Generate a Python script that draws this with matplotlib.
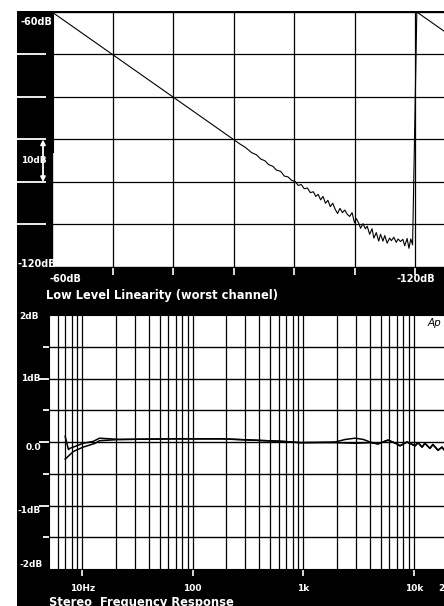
import numpy as np
import matplotlib
matplotlib.use("Agg")
import matplotlib.pyplot as plt
from matplotlib.patches import Rectangle
import matplotlib.transforms as mtrans

# Low level linearity (generator level vs measured level, dB)
lin_level = [-60, -70, -80, -90, -91.0, -92.0, -93.0, -93.8, -94.5, -95.2, -95.8, -96.5,
             -97.1, -97.8, -98.4, -99.0, -99.6, -100.2, -100.7, -101.2, -101.7, -102.2,
             -102.7, -103.2, -103.6, -104.0, -104.4, -104.8, -105.2, -105.6, -106.0,
             -106.4, -106.8, -107.2, -107.6, -108.0, -108.4, -108.8, -109.2, -109.6,
             -110.0, -110.3, -110.7, -111.0, -111.4, -111.8, -112.1, -112.5, -112.9,
             -113.2, -113.6, -114.0, -114.3, -114.7, -115.0, -115.4, -115.8, -116.1,
             -116.5, -116.9, -117.2, -117.6, -118.0, -118.3, -118.7, -119.0, -119.3,
             -119.6, -120.3]
lin_out = [-60, -70, -80, -90, -91.0, -91.9, -93.1, -93.6, -94.6, -95.0, -95.9, -96.3,
           -97.2, -97.5, -98.6, -98.8, -99.6, -99.9, -100.8, -100.6, -101.6, -101.4,
           -102.5, -102.3, -103.4, -102.9, -104.2, -103.4, -105.0, -104.3, -105.8,
           -105.0, -106.4, -107.4, -106.2, -107.2, -106.6, -107.6, -108.1, -107.2,
           -109.6, -108.6, -109.7, -110.9, -109.8, -111.0, -110.4, -112.3, -111.0,
           -113.2, -111.9, -113.9, -112.3, -113.9, -112.6, -114.4, -113.2, -113.8,
           -113.0, -114.2, -113.4, -114.0, -113.5, -115.0, -113.3, -115.6, -113.4,
           -114.8, -60]
# next sweep starting again at the right edge
sweep2_level = [-120.3, -125.0]
sweep2_out = [-60, -64.7]
# tail of the previous sweep at the left edge
sweep0_level = [-60.15, -60.15]
sweep0_out = [-60, -93]

# Stereo frequency response (Hz, dB)
freq_a = [7.0, 7.5, 7.7, 8.3, 10.2, 12.6, 14.3, 22, 66, 184, 643, 934, 1940, 2400, 2940,
          3500, 4020, 4750, 5840, 7050, 7500, 8680, 10300, 10900, 11900, 12600, 14000,
          14900, 16600, 18000, 18700]
resp_a = [0.09, -0.12, -0.10, -0.08, -0.02, 0.01, 0.06, 0.04, 0.05, 0.05, 0.01, -0.01,
          0.0, 0.04, 0.06, 0.04, 0.0, -0.03, 0.03, -0.03, -0.06, 0.0, -0.06, -0.01,
          -0.08, -0.02, -0.10, -0.04, -0.13, -0.08, -0.12]
freq_b = [7.0, 8.3, 10.2, 13.1, 14.3, 22, 66, 184, 643, 934, 1940, 2940, 4020, 4750,
          5840, 7050, 7500, 8680, 10300, 10900, 11900, 12600, 14000, 14900, 16600,
          18000, 18700]
resp_b = [-0.27, -0.15, -0.08, -0.02, 0.02, 0.04, 0.05, 0.05, 0.01, -0.01, -0.01, -0.02,
          -0.01, -0.03, 0.03, -0.03, -0.06, 0.0, -0.06, -0.01, -0.08, -0.02, -0.10,
          -0.04, -0.13, -0.08, -0.12]

lin_grid = [-60, -70, -80, -90, -100, -110, -120, -130]
fr_grid_x = [6, 7, 8, 9, 10, 20, 30, 40, 50, 60, 70, 80, 90, 100, 200, 300, 400, 500,
             600, 700, 800, 900, 1000, 2000, 3000, 4000, 5000, 6000, 7000, 8000, 9000,
             10000, 20000]
fr_grid_y = [-1.5, -1.0, -0.5, 0.0, 0.5, 1.0, 1.5]
fr_ticks = [10, 100, 1000, 10000, 20000]
fr_ticklabels = ["10Hz", "100", "1k", "10k", "20k"]

W, H = 444, 606
cond = ["Liberation Sans Narrow", "DejaVu Sans"]

fig = plt.figure(figsize=(W / 100, H / 100), dpi=100)
# black page behind both panels
bg = fig.add_axes([0, 0, 1, 1], zorder=-5)
bg.axis("off")
bg.add_patch(Rectangle((17 / W, 0), 1, (H - 11) / H, transform=bg.transAxes,
                       facecolor="black", edgecolor="none"))

# ---- top panel: low level linearity ----
ax1 = fig.add_axes([52 / W, (H - 267) / H, 423.5 / W, 255 / H])
ax1.set_xlim(-60, -130)
ax1.set_ylim(-120, -60)
for v in lin_grid:
    ax1.axvline(v, color="black", lw=0.9, zorder=1)
    ax1.axhline(v, color="black", lw=0.9, zorder=1)
ax1.plot(lin_level, lin_out, color="black", lw=0.8, zorder=3)
ax1.plot(sweep2_level, sweep2_out, color="black", lw=0.8, zorder=3)
ax1.plot(sweep0_level, sweep0_out, color="black", lw=0.8, zorder=3)
ax1.set_xticks([-70, -80, -90, -100, -110, -120])
ax1.set_xticklabels([])
ax1.set_yticks([])
ax1.tick_params(axis="x", direction="out", length=6, width=1.2, color="white")
for s in ax1.spines.values():
    s.set_color("black")

# white dashes in the left strip
bl1 = mtrans.blended_transform_factory(ax1.transAxes, ax1.transData)
ax1.hlines([-70, -80, -90, -100, -110], -35 / 423.5, -6 / 423.5, colors="white",
           lw=1.3, transform=bl1, clip_on=False)
ax1.annotate("", xy=(-9 / 423.5, -100), xytext=(-9 / 423.5, -90), xycoords=bl1,
             textcoords=bl1, arrowprops=dict(arrowstyle="<|-|>", color="white", lw=1.3,
                                             mutation_scale=7, shrinkA=0, shrinkB=0))
ax1.text(-31 / 423.5, -95, "10dB", transform=bl1, color="white", fontsize=6.5,
         fontweight="bold", family=cond, va="center", ha="left")
ax1.text(-32 / 423.5, -62.3, "-60dB", transform=bl1, color="white", fontsize=7,
         fontweight="bold", family=cond, va="center", ha="left")
ax1.text(-35 / 423.5, -119.3, "-120dB", transform=bl1, color="white", fontsize=7,
         fontweight="bold", family=cond, va="center", ha="left")
fig.text(49 / W, 1 - 279 / H, "-60dB", color="white", fontsize=7, fontweight="bold",
         family=cond, va="center", ha="left")
fig.text(416 / W, 1 - 279 / H, "-120dB", color="white", fontsize=7, fontweight="bold",
         family=cond, va="center", ha="center")
fig.text(46 / W, 1 - 296 / H, "Low Level Linearity (worst channel)", color="white",
         fontsize=8.3, fontweight="bold", va="center", ha="left")

# ---- bottom panel: stereo frequency response ----
fr_w = 110.5 * np.log10(30000 / 5)
ax2 = fig.add_axes([49 / W, (H - 569) / H, fr_w / W, 254 / H])
ax2.set_xscale("log")
ax2.set_xlim(5, 30000)
ax2.set_ylim(-2, 2)
for f in fr_grid_x:
    ax2.axvline(f, color="black", lw=0.9, zorder=1)
for v in fr_grid_y:
    ax2.axhline(v, color="black", lw=1.0, zorder=1)
ax2.plot(freq_a, resp_a, color="black", lw=1.1, zorder=3)
ax2.plot(freq_b, resp_b, color="black", lw=1.1, zorder=3)
ax2.set_xticks(fr_ticks)
ax2.set_xticklabels(fr_ticklabels)
ax2.xaxis.set_minor_locator(matplotlib.ticker.NullLocator())
ax2.tick_params(axis="x", direction="out", length=5, width=1.2, color="white",
                labelcolor="white", labelsize=6.5, pad=6)
for lab in ax2.get_xticklabels():
    lab.set_fontweight("bold")
    lab.set_family(cond)
ax2.set_yticks([1, 0, -1])
ax2.set_yticklabels([])
ax2.set_yticks([1.5, 0.5, -0.5, -1.5], minor=True)
ax2.tick_params(axis="y", which="major", direction="out", length=7, width=1.3,
                color="white")
ax2.tick_params(axis="y", which="minor", direction="out", length=4, width=1.3,
                color="white")
for s in ax2.spines.values():
    s.set_color("black")

bl2 = mtrans.blended_transform_factory(fig.transFigure, ax2.transData)
for y, t, x in [(1.97, "2dB", 19), (1.0, "1dB", 41), (-0.08, "0.0", 41),
                (-1.08, "-1dB", 41), (-1.93, "-2dB", 19)]:
    ha = "right" if x > 30 else "left"
    ax2.text(x / W, y, t, transform=bl2, color="white", fontsize=6.5, fontweight="bold",
             family=cond, va="center", ha=ha)
ax2.text(428 / W, 1 - 323 / H, "Ap", transform=fig.transFigure, color="black",
         fontsize=7.5, style="italic", va="center", ha="left")
fig.text(49 / W, 1 - 596 / H, "Stereo  Frequency Response", color="white",
         fontsize=8.3, fontweight="bold", va="top", ha="left")

fig.savefig("out.png", dpi=100, facecolor="white")
